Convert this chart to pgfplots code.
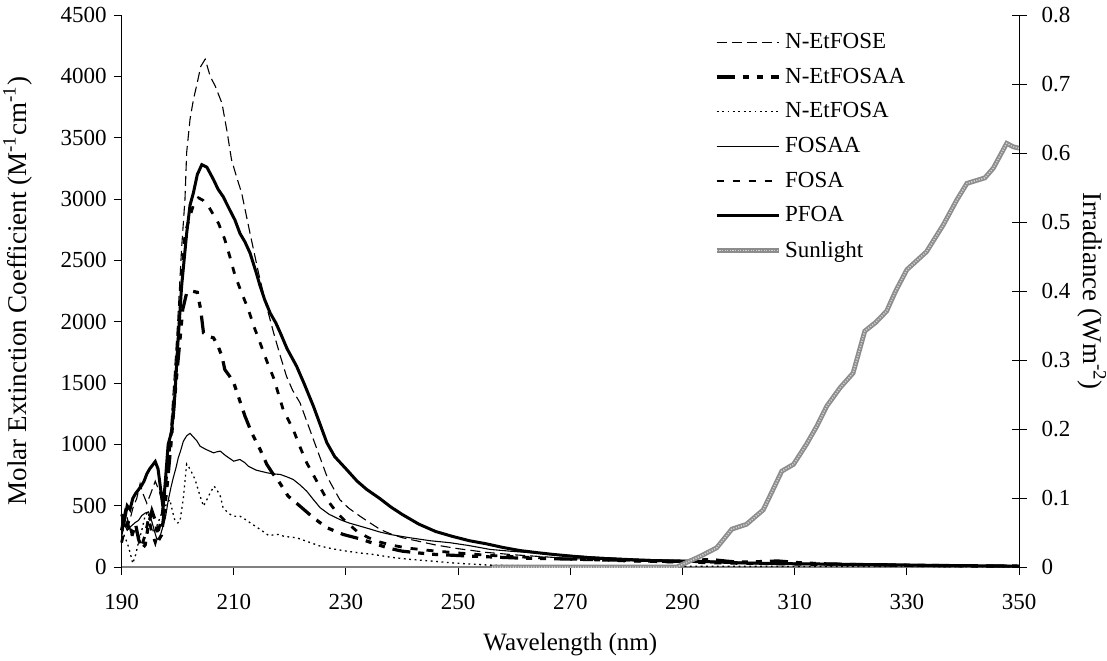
\documentclass[border=0pt]{standalone}
\usepackage{pgfplots}
\pgfplotsset{compat=1.18}
\usepackage{fontspec}
\setmainfont{Liberation Serif}

\definecolor{sungray}{gray}{0.55}
\definecolor{sunlight}{gray}{0.82}

\tikzset{
  sunstyle/.style={draw=sungray, line width=2.4pt,
    postaction={draw=sunlight, line width=0.8pt, dash pattern=on 0.6pt off 0.7pt}},
  etfose/.style={black, line width=0.55pt, dash pattern=on 5pt off 2.5pt},
  etfosaa/.style={black, line width=1.6pt, dash pattern=on 9pt off 4pt on 3pt off 4pt on 3pt off 4pt},
  etfosa/.style={black, line width=0.65pt, dash pattern=on 0.9pt off 1.8pt},
  fosaa/.style={black, line width=0.55pt},
  fosa/.style={black, line width=1.4pt, dash pattern=on 3.5pt off 4.5pt},
  pfoa/.style={black, line width=1.5pt},
}

\begin{document}
\begin{tikzpicture}
\begin{axis}[
    name=main,
    scale only axis, width=448.5pt, height=275.9pt,
    xmin=190, xmax=350, ymin=0, ymax=4500,
    xtick={190,210,...,350}, ytick={0,500,...,4500},
    axis x line*=bottom, axis y line*=left,
    x axis line style={draw=gray, line width=1.1pt},
    y axis line style={draw=black, line width=0.5pt},
    tick align=outside, major tick length=4pt,
    tick style={black, line width=0.5pt},
    /pgf/number format/assume math mode=true,
    /pgf/number format/1000 sep={},
    ticklabel style={font=\fontsize{11.5}{13}\selectfont},
    xticklabel style={yshift=-6pt},
    xlabel={Wavelength (nm)},
    ylabel={Molar Extinction Coefficient (M\textsuperscript{-1}cm\textsuperscript{-1})},
    xlabel style={font=\fontsize{12.5}{14}\selectfont, inner sep=0pt,
      at={(axis description cs:0.5,-0.141)}, anchor=center},
    ylabel style={font=\fontsize{13.5}{15}\selectfont, inner sep=0pt,
      at={(axis description cs:-0.116,0.5)}, anchor=center, rotate=0},
    clip=false,
    legend cell align=left,
    legend image code/.code={\draw[#1] (0pt,0pt) -- (31pt,0pt);},
    legend style={at={(axis description cs:0.66,0.975)}, anchor=north west,
      draw=none, fill=none, font=\fontsize{11.5}{13}\selectfont,
      row sep=4.2pt, inner sep=0pt},
]
% N-EtFOSE
\addplot[etfose] coordinates {
(190,380)(190.7,450)(191.3,350)(192,480)(192.7,560)(193.3,680)(193.8,600)(194.5,520)(195.2,600)(196,700)(196.7,620)(197.3,520)(198,800)(198.7,1100)(199.3,1500)(200,2000)(200.7,2600)(201.3,3000)(201.6,3380)(202.2,3650)(202.8,3810)(203.5,3950)(204.1,4080)(204.9,4140)(205.8,4000)(206.7,3920)(207.9,3780)(208.8,3550)(209.6,3320)(210.5,3180)(211.4,3050)(212.9,2720)(214.4,2400)(215.7,2150)(217.1,1910)(218.3,1720)(219.4,1555)(220.5,1440)(221.8,1340)(223,1190)(224.2,1040)(225.4,890)(226.6,740)(227.8,640)(228.9,550)(230.5,480)(232.5,415)(234.3,360)(236.1,307)(238,270)(240,240)(243,210)(246,180)(250,150)(255,120)(260,100)(265,85)(270,70)(275,60)(280,52)(285,45)(290,40)(295,35)(300,30)(310,22)(320,17)(330,12)(340,8)(350,5)
};
\addlegendentry{N-EtFOSE}
% N-EtFOSAA
\addplot[etfosaa] coordinates {
(190,300)(190.6,430)(191.2,330)(191.8,250)(192.5,350)(193,230)(193.6,150)(194.2,180)(194.8,350)(195.4,460)(196,380)(196.6,220)(197.1,260)(197.6,450)(198.2,700)(198.8,1000)(199.5,1400)(200.2,1750)(200.9,2100)(201.6,2235)(202.5,2250)(203.5,2240)(204.1,2100)(204.6,1909)(205.5,1880)(206.4,1868)(207.2,1800)(207.9,1718)(208.4,1610)(209.2,1560)(210,1502)(211.1,1352)(212,1230)(213.2,1094)(214.7,958)(215.9,836)(217,760)(218,700)(219.7,578)(221.8,497)(224.2,402)(226.6,321)(229.5,266)(232.5,230)(235.5,185)(238,150)(240,130)(243,115)(246,103)(252,90)(260,75)(270,65)(280,55)(288,45)(292,55)(295,62)(298,48)(300,40)(304,45)(307,50)(311,35)(315,27)(320,22)(330,15)(340,10)(350,8)
};
\addlegendentry{N-EtFOSAA}
% N-EtFOSA
\addplot[etfosa] coordinates {
(190,350)(190.5,250)(191,200)(191.5,120)(192,30)(192.5,100)(193,200)(193.6,300)(194.2,420)(194.7,450)(195.3,330)(195.8,280)(196.4,350)(197,420)(197.6,480)(198.1,520)(198.6,550)(199.1,450)(199.5,380)(200,360)(200.4,370)(201,560)(201.6,840)(202.2,800)(203.1,714)(204,578)(204.6,497)(205.2,550)(205.8,606)(206.5,660)(207.1,620)(207.6,578)(208.1,484)(209,440)(209.9,415)(211.1,415)(212,390)(212.9,362)(214.7,307)(216.2,258)(218,266)(219,250)(221.2,239)(223,210)(225.4,171)(227.5,150)(230.1,130)(232.5,115)(234.9,103)(238,80)(241.4,63)(245,50)(248.5,36)(252,25)(255.7,16)(260,12)(270,10)(280,8)(290,7)(300,6)(320,5)(350,3)
};
\addlegendentry{N-EtFOSA}
% FOSAA
\addplot[fosaa] coordinates {
(190,250)(190.5,350)(191,300)(191.6,330)(192.4,362)(193,380)(193.6,420)(194.2,440)(194.8,450)(195.4,370)(196,271)(196.3,226)(196.8,240)(197.3,320)(197.8,400)(198.3,540)(198.8,650)(199.2,726)(199.7,810)(200.1,890)(200.6,960)(201,1025)(201.6,1070)(202.2,1090)(203,1050)(203.4,1030)(204,985)(205,960)(206.4,931)(207,940)(207.6,945)(208.5,910)(210,863)(210.5,870)(211.1,877)(212,850)(212.6,822)(214,790)(215.9,769)(217,760)(218.3,755)(219.5,735)(220.6,714)(221.8,670)(223,619)(224.2,550)(225.4,484)(227,430)(228.9,388)(230.5,360)(232.5,334)(234.3,310)(236.1,285)(238,265)(241.4,239)(245,215)(248.5,199)(252,175)(255.7,144)(259.2,130)(265,110)(270,95)(275,80)(280,70)(285,60)(290,55)(295,48)(300,40)(310,32)(320,25)(330,18)(340,13)(350,10)
};
\addlegendentry{FOSAA}
% FOSA
\addplot[fosa] coordinates {
(190,200)(190.6,320)(191.2,380)(191.8,280)(192.4,330)(193,250)(193.6,180)(194.2,260)(194.8,400)(195.4,280)(196,200)(196.6,300)(197.2,420)(197.8,650)(198.4,900)(199,1150)(199.6,1500)(200.1,1850)(200.7,2300)(201.3,2720)(202.2,2860)(202.8,2950)(203.7,3010)(204.5,2990)(205.5,2940)(206.4,2870)(207.3,2800)(208.4,2670)(209.3,2530)(210.2,2380)(211.4,2235)(212.6,2100)(213.6,1960)(214.7,1827)(215.9,1678)(217.1,1542)(218.8,1284)(220.6,1121)(221.8,980)(223,850)(224.8,700)(226.6,551)(228.4,443)(230,370)(232,290)(234,240)(236,205)(238,180)(241,155)(245,135)(250,115)(255,97)(260,85)(265,75)(270,65)(275,58)(280,50)(285,45)(290,40)(295,35)(300,30)(310,24)(320,18)(330,14)(340,10)(350,6)
};
\addlegendentry{FOSA}
% PFOA
\addplot[pfoa] coordinates {
(190,430)(190.5,380)(191,500)(191.5,470)(192,560)(192.5,600)(193,630)(193.5,660)(194,700)(194.5,760)(195,800)(195.5,830)(196,860)(196.5,800)(197,620)(197.4,480)(197.8,700)(198.3,1000)(198.9,1100)(199.5,1400)(200,1800)(200.7,2290)(201.6,2720)(202.2,2950)(202.8,3050)(203.5,3200)(204.3,3280)(205.2,3260)(206.4,3157)(207.2,3080)(208.1,3020)(209.3,2910)(210.2,2830)(211.1,2720)(212,2650)(212.9,2560)(214,2400)(214.7,2290)(215.5,2180)(216.5,2070)(217.5,1990)(218.3,1909)(219.5,1780)(221.2,1637)(222.5,1500)(224.2,1311)(225.5,1150)(226.6,1013)(228,900)(230.1,796)(232,700)(233.7,633)(236,560)(238,490)(240,430)(243,350)(246,290)(249,250)(252,215)(255,190)(258,160)(261,135)(264,118)(267,103)(270,90)(273,78)(276,70)(279,62)(282,56)(285,53)(288,50)(291,48)(294,45)(297,40)(300,35)(305,30)(310,27)(315,25)(320,22)(325,20)(330,17)(335,14)(340,12)(345,10)(350,8)
};
\addlegendentry{PFOA}
\addlegendimage{sunstyle}
\addlegendentry{Sunlight}
% page frame
\path (axis description cs:-0.1355,-0.169) rectangle (axis description cs:1.098,1.0272);
\end{axis}

\begin{axis}[
    scale only axis, width=448.5pt, height=275.9pt,
    xmin=190, xmax=350, ymin=0, ymax=0.8,
    ytick={0,0.1,...,0.8},
    axis x line=none, axis y line*=right,
    y axis line style={draw=black, line width=0.5pt},
    tick align=center, major tick length=7.5pt,
    tick style={black, line width=0.5pt},
    /pgf/number format/assume math mode=true,
    /pgf/number format/fixed,
    yticklabel style={font=\fontsize{11.5}{13}\selectfont, xshift=4pt},
    ylabel={Irradiance (Wm\textsuperscript{-2})},
    ylabel style={font=\fontsize{13.5}{15}\selectfont, inner sep=0pt,
      at={(axis description cs:1.081,0.5)}, anchor=center, rotate=180},
]
\addplot[sunstyle] coordinates {
(256,0)(289,0)(290,0.004)(293,0.015)(296.1,0.028)(298.8,0.055)(301.4,0.062)(304.4,0.083)(306,0.11)(307.7,0.139)(309.8,0.149)(312.1,0.178)(314,0.205)(315.7,0.233)(318.1,0.260)(320.4,0.281)(322.5,0.342)(324.5,0.355)(326.4,0.371)(328,0.40)(330,0.431)(333.5,0.457)(336.5,0.496)(338.9,0.532)(340.7,0.556)(343.9,0.564)(345.4,0.578)(347.8,0.614)(349,0.609)(350,0.607)
};
\end{axis}
\end{tikzpicture}
\end{document}
